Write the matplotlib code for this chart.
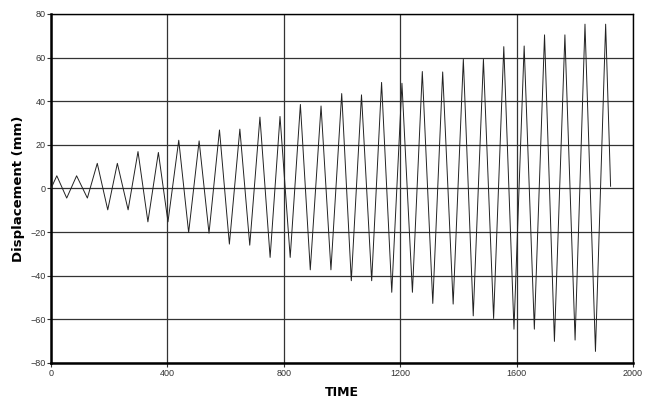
import matplotlib
matplotlib.use('Agg')
import matplotlib.pyplot as plt

# turning points of the cyclic displacement history
peak_time = [20, 88, 159, 228, 299, 369, 439, 509, 579, 649, 718, 787, 857, 928,
             999, 1067, 1136, 1206, 1276, 1346, 1417, 1486, 1556, 1626, 1696, 1766, 1835, 1906]
peak_disp = [5.8, 5.8, 11.5, 11.5, 16.9, 16.5, 22.1, 21.8, 26.8, 27.2, 32.7, 33.0, 38.5, 37.8,
             43.5, 42.9, 48.6, 48.2, 53.6, 53.4, 59.2, 59.2, 65.0, 65.3, 70.4, 70.4, 75.3, 75.3]
trough_time = [54, 125, 195, 265, 333, 402, 473, 543, 613, 683, 753, 822, 891, 962,
               1032, 1102, 1171, 1242, 1312, 1382, 1451, 1521, 1591, 1661, 1730, 1801, 1871]
trough_disp = [-4.4, -4.4, -9.8, -9.8, -15.3, -15.3, -20.2, -20.5, -25.5, -26.0, -31.6, -31.6, -37.3, -37.3,
               -42.3, -42.3, -47.6, -47.6, -52.7, -53.0, -58.4, -59.6, -64.5, -64.5, -70.1, -69.5, -74.7]
start_point = (0, 0.0)
end_point = (1923, 1.0)

x_ticks = [0, 400, 800, 1200, 1600, 2000]
y_ticks = [-80, -60, -40, -20, 0, 20, 40, 60, 80]

# interleave peaks and troughs
t = [start_point[0]]
d = [start_point[1]]
for i in range(len(peak_time)):
    t.append(peak_time[i])
    d.append(peak_disp[i])
    if i < len(trough_time):
        t.append(trough_time[i])
        d.append(trough_disp[i])
t.append(end_point[0])
d.append(end_point[1])

plt.rcParams['font.family'] = ['Liberation Sans', 'DejaVu Sans']

fig = plt.figure(figsize=(6.58, 3.98), dpi=100)
ax = fig.add_axes([0.0775, 0.088, 0.8845, 0.877])

ax.plot(t, d, color='#222222', linewidth=0.7, zorder=3)

ax.set_xlim(0, 2000)
ax.set_ylim(-80, 80)
ax.set_xticks(x_ticks)
ax.set_yticks(y_ticks)
ax.grid(True, color='#333333', linewidth=0.9, zorder=1)
ax.tick_params(labelsize=6.5, length=3, width=0.8, colors='#333333', pad=1)

for s in ax.spines.values():
    s.set_color('black')
    s.set_linewidth(1.0)
ax.spines['left'].set_linewidth(1.8)
ax.spines['bottom'].set_linewidth(1.8)

ax.set_xlabel('TIME', fontsize=9, fontweight='bold', family='DejaVu Sans', labelpad=6)
ax.set_ylabel('Displacement (mm)', fontsize=9.5, fontweight='bold', family='DejaVu Sans', labelpad=4)

plt.savefig('out.png', dpi=100)
plt.close()
